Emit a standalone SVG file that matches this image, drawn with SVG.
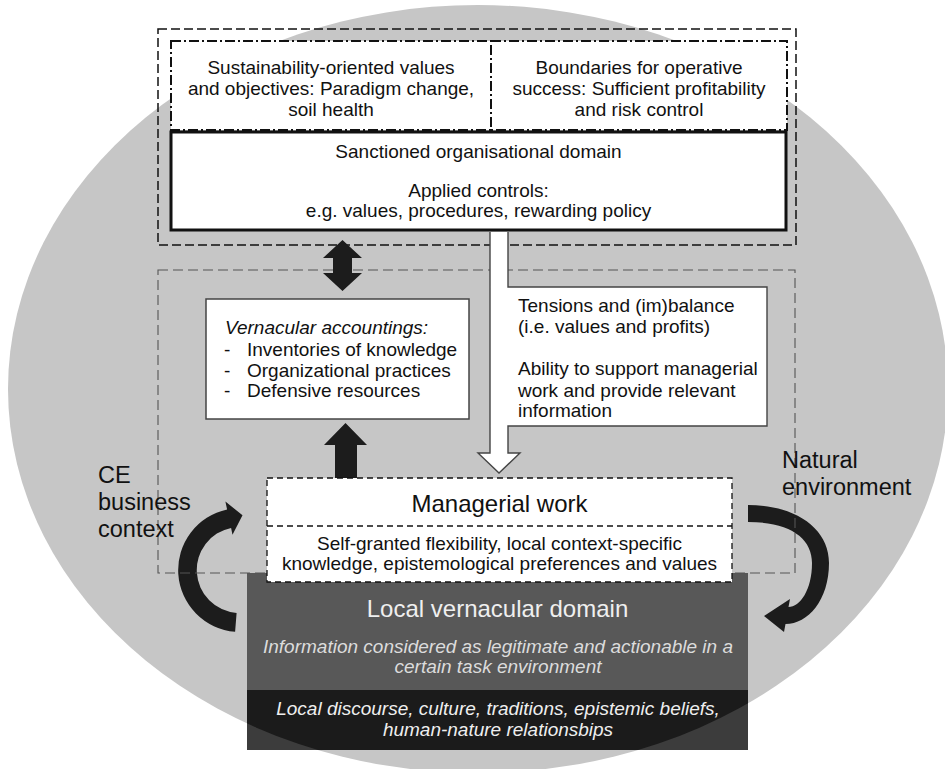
<svg xmlns="http://www.w3.org/2000/svg" width="945" height="769" viewBox="0 0 945 769">
<style>
.t{font-family:"Liberation Sans",Arial,sans-serif;font-size:19px;fill:#111}
.c{text-anchor:middle}
.i{font-style:italic}
.big{font-size:24px}
.lbl{font-size:23.5px}
.w{fill:#efefef}
.lw{fill:#dcdcdc}
.outer{fill:none;stroke:#111;stroke-width:1.5;stroke-dasharray:9 4}
.dd{fill:#fff;stroke:#111;stroke-width:2;stroke-dasharray:10 3 2 3}
.zone{fill:none;stroke:#555;stroke-width:1.1;stroke-dasharray:10 5}
.mg{fill:#fff;stroke:#111;stroke-width:1.3;stroke-dasharray:6 4}
.blk{fill:#1c1c1c}
.box{fill:#fff;stroke:#444;stroke-width:1.5}
</style>
<defs>
<clipPath id="ell"><ellipse cx="478" cy="389" rx="470" ry="384"/></clipPath>
</defs>
<rect width="945" height="769" fill="#fff"/>
<ellipse id="background" cx="478" cy="389" rx="470" ry="384" fill="#c6c6c6"/>

<g id="local-vernacular-domain">
<rect x="247" y="573" width="501" height="117" fill="#585858"/>
<rect x="247" y="690" width="501" height="60" fill="#3c3c3c"/>
<rect x="247" y="690" width="501" height="60" fill="#1b1b1b" clip-path="url(#ell)"/>
<text class="t c big w" x="497.5" y="617">Local vernacular domain</text>
<text class="t c i lw" x="498" y="653">Information considered as legitimate and actionable in a</text>
<text class="t c i lw" x="498" y="673">certain task environment</text>
<text class="t c i w" x="498" y="715">Local discourse, culture, traditions, epistemic beliefs,</text>
<text class="t c i w" x="498" y="736">human-nature relationsbips</text>
</g>

<g id="context-connectors">
<path class="blk" d="M235.1,631.8 A62,62 0 0 1 227.1,509.4 L225.4,501.5 L242.5,515.3 L232.5,534.8 L231.1,527.9 A43,43 0 0 0 236.6,612.9 Z"/>
<path class="blk" d="M748,505 C795,505 829,528 829,563 C829,600 808,624 785.5,624 L784,632 L764,616 L790,599 L788.5,607 C800,607 812,590 812,563 C812,538 790,522 748,522 Z"/>
</g>

<g id="vernacular-zone">
<rect class="zone" x="158" y="270" width="637" height="303"/>
</g>

<g id="organisational-domain">
<rect class="outer" x="158" y="29" width="638" height="216"/>
</g>

<g id="sustainability-values">
<rect class="dd" x="171" y="41" width="320" height="89"/>
<text class="t c" x="331" y="74">Sustainability-oriented values</text>
<text class="t c" x="331" y="95">and objectives: Paradigm change,</text>
<text class="t c" x="331" y="116">soil health</text>
</g>

<g id="operative-boundaries">
<rect class="dd" x="491" y="41" width="296" height="89"/>
<text class="t c" x="639" y="74">Boundaries for operative</text>
<text class="t c" x="639" y="95">success: Sufficient profitability</text>
<text class="t c" x="639" y="116">and risk control</text>
</g>

<g id="sanctioned-domain">
<rect x="171" y="132" width="615" height="98" fill="#fff" stroke="#111" stroke-width="3"/>
<text class="t c" x="478.5" y="158">Sanctioned organisational domain</text>
<text class="t c" x="478.5" y="197">Applied controls:</text>
<text class="t c" x="478.5" y="217">e.g. values, procedures, rewarding policy</text>
</g>

<g id="connectors">
<polygon class="blk" points="342.5,240 362,258 352,258 352,273 362,273 342.5,291 323,273 333,273 333,258 323,258"/>
<polygon class="blk" points="345.5,423 367,445 357,445 357,478 335,478 335,445 324,445"/>
<path d="M490,232 L490,453 L478,453 L499,473 L520,453 L508,453 L508,426 L767,426 L767,287 L508,287 L508,232 Z" fill="#fff"/>
<path d="M490,232 L490,453 L478,453 L499,473 L520,453 L508,453 L508,426 L767,426 L767,287 L508,287 L508,232" fill="none" stroke="#444" stroke-width="1.4"/>
</g>

<g id="tensions">
<text class="t" x="518" y="312">Tensions and (im)balance</text>
<text class="t" x="518" y="333">(i.e. values and profits)</text>
<text class="t" x="518" y="375">Ability to support managerial</text>
<text class="t" x="518" y="397">work and provide relevant</text>
<text class="t" x="518" y="417">information</text>
</g>

<g id="vernacular-accountings">
<rect class="box" x="206" y="299" width="263" height="120"/>
<text class="t i" x="225" y="334">Vernacular accountings:</text>
<text class="t" x="224" y="356">-</text>
<text class="t" x="247" y="356">Inventories of knowledge</text>
<text class="t" x="224" y="377">-</text>
<text class="t" x="247" y="377">Organizational practices</text>
<text class="t" x="224" y="397">-</text>
<text class="t" x="247" y="397">Defensive resources</text>
</g>

<g id="managerial-work">
<rect class="mg" x="267" y="478" width="465" height="104"/>
<line x1="267" y1="526" x2="732" y2="526" stroke="#111" stroke-width="1.3" stroke-dasharray="6 4"/>
<text class="t c big" x="499.5" y="512">Managerial work</text>
<text class="t c" x="499.5" y="550">Self-granted flexibility, local context-specific</text>
<text class="t c" x="499.5" y="570">knowledge, epistemological preferences and values</text>
</g>

<g id="ce-business-context">
<text class="t lbl" x="98" y="483">CE</text>
<text class="t lbl" x="98" y="510">business</text>
<text class="t lbl" x="98" y="537">context</text>
</g>

<g id="natural-environment">
<text class="t lbl" x="782" y="468">Natural</text>
<text class="t lbl" x="782" y="495">environment</text>
</g>
</svg>
